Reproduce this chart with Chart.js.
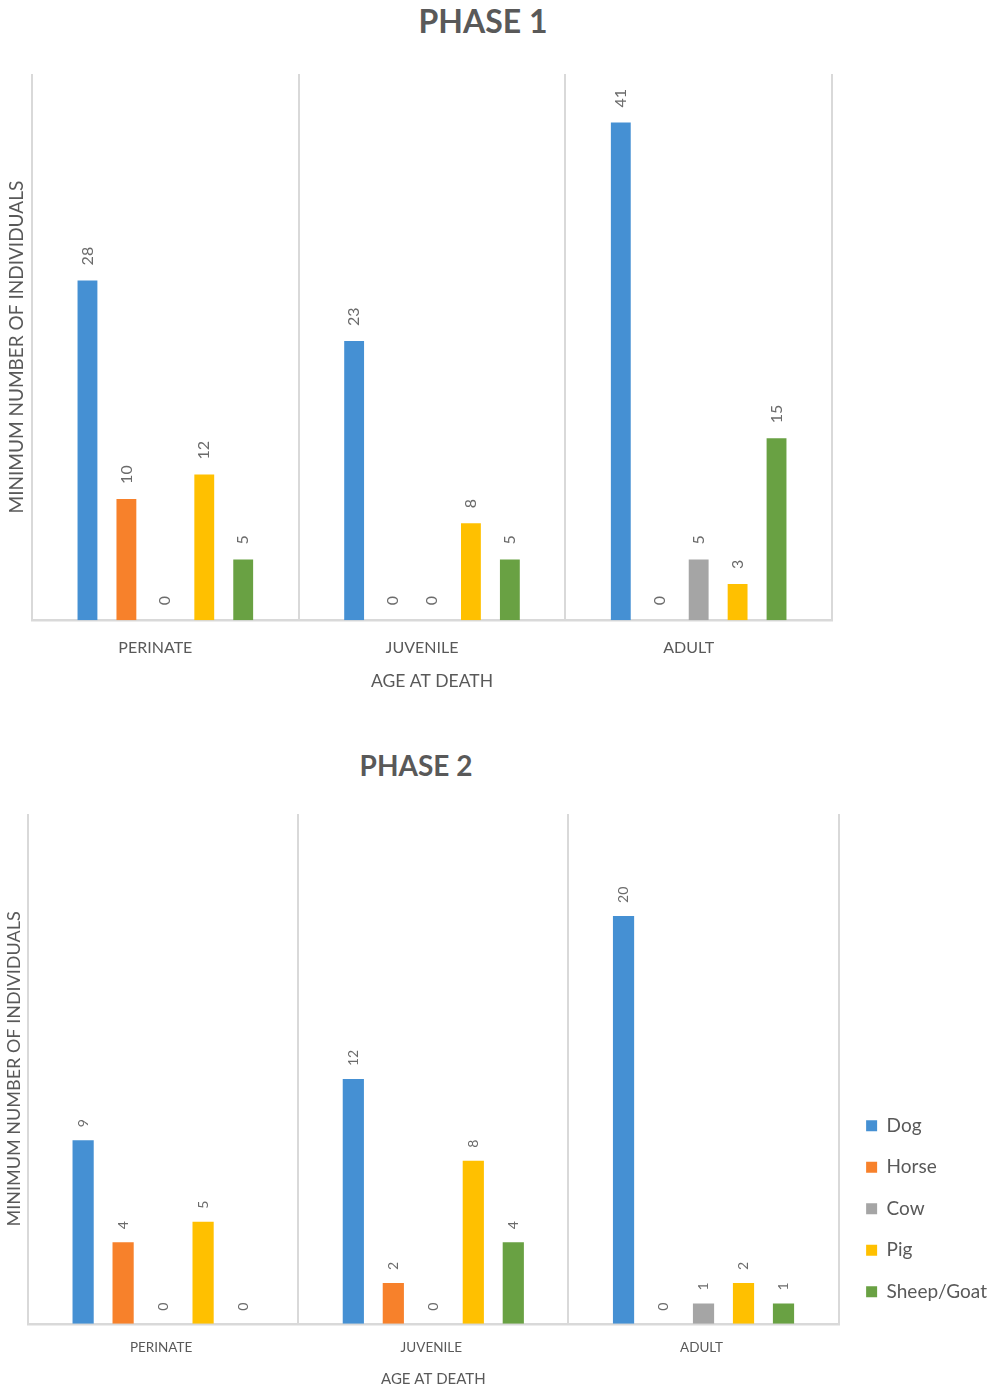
<!DOCTYPE html>
<html>
<head>
<meta charset="utf-8">
<script src="https://cdn.jsdelivr.net/npm/chart.js@4.4.0/dist/chart.umd.min.js"></script>
<style>
  html, body { margin: 0; padding: 0; background: #fff; }
  #page { position: relative; width: 997px; height: 1391px; font-family: Lato, sans-serif; }
  canvas { position: absolute; left: 0; }
  .title { position: absolute; font-weight: bold; color: #595959; white-space: nowrap; transform: translate(-50%, -50%); }
</style>
</head>
<body>
<div id="page">
  <div class="title" style="left:483px; top:20px; font-size:32px;">PHASE 1</div>
  <canvas id="phase1" width="997" height="700" style="top:0;"></canvas>
  <div class="title" style="left:416px; top:765px; font-size:28px;">PHASE 2</div>
  <canvas id="phase2" width="997" height="691" style="top:700px;"></canvas>
</div>
<script>
// categories and series
const ageGroups = ['PERINATE', 'JUVENILE', 'ADULT'];
const species = ['Dog', 'Horse', 'Cow', 'Pig', 'Sheep/Goat'];
const speciesColors = ['#4590D3', '#F7812B', '#A5A5A5', '#FFC000', '#69A143'];

// Phase 1 values (per species, across age groups)
const p1Dog = [28, 23, 41];
const p1Horse = [10, 0, 0];
const p1Cow = [0, 0, 5];
const p1Pig = [12, 8, 3];
const p1Sheep = [5, 5, 15];

// Phase 2 values
const p2Dog = [9, 12, 20];
const p2Horse = [4, 2, 0];
const p2Cow = [0, 0, 1];
const p2Pig = [5, 8, 2];
const p2Sheep = [0, 4, 1];

const p1Max = 45;
const p2Max = 25;

const textGray = '#595959';
const gridGray = '#D9D9D9';

// rotated value labels above each bar
const barValueLabels = {
    id: 'barValueLabels',
    afterDatasetsDraw(chart, args, opts) {
        const ctx = chart.ctx;
        ctx.save();
        ctx.fillStyle = opts.color;
        ctx.font = opts.size + 'px Lato, sans-serif';
        ctx.textAlign = 'left';
        ctx.textBaseline = 'middle';
        chart.data.datasets.forEach((ds, i) => {
            const meta = chart.getDatasetMeta(i);
            meta.data.forEach((bar, j) => {
                ctx.save();
                ctx.translate(bar.x, bar.y - opts.offset);
                ctx.rotate(-Math.PI / 2);
                ctx.fillText(String(ds.data[j]), 0, 0);
                ctx.restore();
            });
        });
        ctx.restore();
    }
};

function makeDatasets(series, catPct, barPct) {
    return series.map((data, i) => ({
        label: species[i],
        data: data,
        backgroundColor: speciesColors[i],
        borderWidth: 0,
        categoryPercentage: catPct,
        barPercentage: barPct
    }));
}

function makeChart(id, series, max, sizes) {
    const scales = {
        x: {
            grid: { color: gridGray, lineWidth: 2, offset: true, drawTicks: false },
            border: { color: gridGray, width: 2.5 },
            ticks: {
                color: textGray,
                padding: sizes.tickPad,
                labelOffset: sizes.labelShift,
                font: { family: 'Lato', size: sizes.tickSize }
            },
            title: {
                display: true,
                text: 'AGE AT DEATH',
                color: textGray,
                font: { family: 'Lato', size: sizes.axisTitleSize },
                padding: { top: sizes.titlePad, bottom: 0 }
            }
        },
        y: {
            min: 0,
            max: max,
            grid: { display: false, drawTicks: false },
            border: { display: false },
            ticks: { display: false },
            title: {
                display: true,
                text: 'MINIMUM NUMBER OF INDIVIDUALS',
                color: textGray,
                font: { family: 'Lato', size: sizes.yTitleSize },
                padding: { top: sizes.yTitlePad, bottom: sizes.yTitlePad }
            }
        }
    };
    // small empty gap between plot and legend
    if (sizes.legend) {
        scales.gap = {
            type: 'linear',
            position: 'right',
            grid: { display: false },
            border: { display: false },
            ticks: { display: false },
            afterFit(scale) { scale.width = sizes.legendGap; }
        };
    }
    return new Chart(document.getElementById(id), {
        type: 'bar',
        data: {
            labels: ageGroups,
            datasets: makeDatasets(series, sizes.catPct, sizes.barPct)
        },
        plugins: [barValueLabels],
        options: {
            responsive: false,
            animation: false,
            layout: { padding: sizes.padding },
            plugins: {
                title: { display: false },
                tooltip: { enabled: false },
                legend: {
                    display: sizes.legend,
                    position: 'right',
                    align: 'end',
                    fullSize: false,
                    labels: {
                        boxWidth: 11,
                        boxHeight: 11,
                        padding: 22.5,
                        color: textGray,
                        font: { family: 'Lato', size: 19 }
                    }
                },
                barValueLabels: { color: '#6B6B6B', size: sizes.valueSize, offset: sizes.valueOffset }
            },
            scales: scales
        }
    });
}

makeChart('phase1', [p1Dog, p1Horse, p1Cow, p1Pig, p1Sheep], p1Max, {
    catPct: 0.73, barPct: 0.51,
    padding: { left: 1.2, right: 165, top: 74, bottom: 8.5 },
    legend: false,
    valueSize: 16, valueOffset: 15,
    tickPad: 18, tickSize: 16, labelShift: -10,
    axisTitleSize: 17.5, titlePad: -5,
    yTitleSize: 19, yTitlePad: 4
});

makeChart('phase2', [p2Dog, p2Horse, p2Cow, p2Pig, p2Sheep], p2Max, {
    catPct: 0.74, barPct: 0.53,
    padding: { left: 0.4, right: 0, top: 114, bottom: 3 },
    legend: true, legendGap: 5,
    valueSize: 14, valueOffset: 13,
    tickPad: 16, tickSize: 13.5, labelShift: -2,
    axisTitleSize: 15, titlePad: -2,
    yTitleSize: 18, yTitlePad: 3
});
</script>
</body>
</html>
